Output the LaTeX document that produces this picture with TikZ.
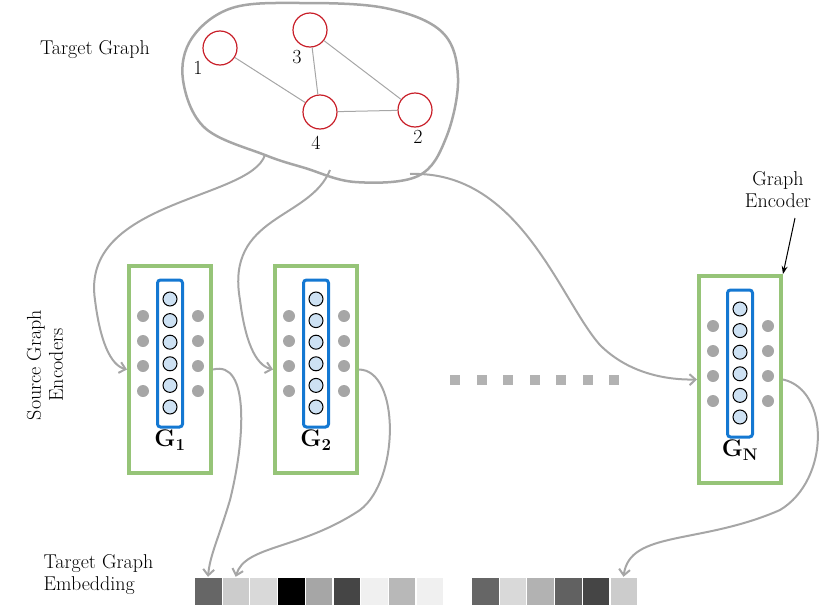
\documentclass[tikz,border=0pt]{standalone}
\usepackage{fontspec}
\setmainfont{Latin Modern Roman}
\usetikzlibrary{arrows.meta}
\definecolor{gr}{RGB}{150,196,120}
\definecolor{bl}{RGB}{20,120,210}
\definecolor{cf}{RGB}{205,225,243}
\definecolor{rd}{RGB}{200,30,40}
\tikzset{
  encbox/.style={draw=gr,line width=4pt,inner sep=0pt},
  colbox/.style={draw=bl,line width=3pt,rounded corners=3pt},
  unit/.style={circle,draw=black,fill=cf,line width=1pt,minimum size=14pt,inner sep=0pt},
  gdot/.style={circle,fill=gray!70,minimum size=12pt,inner sep=0pt},
  vert/.style={circle,draw=rd,line width=1.2pt,minimum size=34pt,inner sep=0pt},
  edge/.style={draw=gray!70,line width=1pt},
  conn/.style={draw=gray!70,line width=2pt,-{Straight Barb[length=6pt,width=11pt]}},
  lab/.style={font=\fontsize{20}{22}\selectfont,align=center},
  cell/.style={minimum width=27.5pt,minimum height=28pt,inner sep=0pt,draw=white,line width=0.4pt}
}
\begin{document}
\begin{tikzpicture}[x=1pt,y=-1pt]
\useasboundingbox (0,0) rectangle (830,608);
% blob
\draw[gray!70,line width=2.5pt] plot[smooth cycle,tension=0.6] coordinates {(192,38) (232,8) (300,3) (385,8) (442,32) (458,78) (446,138) (418,176) (355,182) (305,168) (265,155) (205,128) (183,80)};
\node[vert] (v1) at (220,48) {};
\node[vert] (v3) at (310,30) {};
\node[vert] (v4) at (320,112) {};
\node[vert] (v2) at (415,110) {};
\path[edge] (v1)--(v4) (v3)--(v4) (v3)--(v2) (v4)--(v2);
\node[lab] (l1) at (198,68) {1};
\node[lab] (l3) at (297,57) {3};
\node[lab] (l4) at (316,143) {4};
\node[lab] (l2) at (418,137) {2};
\node[lab] (tg) at (95,50) {Target Graph};
\coordinate (b1) at (265,155);
\coordinate (b2) at (330,170);
\coordinate (b3) at (410,174);
% encoders
\foreach \n/\cx/\cy/\lab in {e1/170/0/1, e2/316/0/2, eN/740/10/N}{
  \node[encbox,minimum width=82pt,minimum height=207pt] (\n) at (\cx,369.5+\cy) {};
  \node[colbox,minimum width=25pt,minimum height=147pt] (\n c) at (\cx,353.5+\cy) {};
  \foreach \k in {0,...,5} \node[unit] (\n u\k) at (\cx,299+\cy+21.6*\k) {};
  \foreach \k in {0,...,3} {
    \node[gdot] (\n l\k) at (\cx-27,316+\cy+25*\k) {};
    \node[gdot] (\n r\k) at (\cx+28,316+\cy+25*\k) {};
  }
  \node[lab,font=\fontsize{24}{26}\selectfont\bfseries] (\n g) at (\cx,440+\cy) {G$_{\mathbf{\lab}}$};
}
\foreach \k in {0,...,6} \node[fill=gray!60,minimum size=10pt,inner sep=0pt] (d\k) at (455+26.5*\k,380) {};
\node[lab,rotate=90] (sge) at (45,365) {Source Graph\\Encoders};
\node[lab] (ge) at (778,190) {Graph\\Encoder};
\coordinate (gea) at (795,218);
\draw[-{Stealth[length=8pt]},line width=1pt] (gea) -- (eN.north east);
\node[lab,align=left,anchor=west] (tge) at (40,575) {Target Graph\\Embedding};
% embedding
\foreach \c [count=\i from 0] in {40,80,85,0,65,27,94,72,94}
  \node[cell,fill=black!\the\numexpr100-\c\relax] (c\i) at (208+27.7*\i,591) {};
\foreach \c [count=\i from 0] in {40,85,70,38,27,80}
  \node[cell,fill=black!\the\numexpr100-\c\relax] (m\i) at (485+27.7*\i,591) {};
% connectors
\draw[conn] (b1) .. controls (250,200) and (80,200) .. (95,300) .. controls (100,340) and (110,365) .. (e1.west);
\draw[conn] (b2) .. controls (310,220) and (225,215) .. (240,300) .. controls (245,340) and (255,365) .. (e2.west);
\draw[conn] (b3) .. controls (520,170) and (560,300) .. (600,345) .. controls (630,375) and (670,380) .. (eN.west);
\draw[conn] (e1.east) .. controls (250,360) and (245,440) .. (230,500) .. controls (218,540) and (210,555) .. (c0.north);
\draw[conn] (e2.east) .. controls (400,370) and (400,480) .. (360,510) .. controls (300,550) and (245,545) .. (c1.north);
\draw[conn] (eN.east) .. controls (830,390) and (830,480) .. (780,510) .. controls (700,545) and (630,530) .. (m5.north);
\end{tikzpicture}
\end{document}
